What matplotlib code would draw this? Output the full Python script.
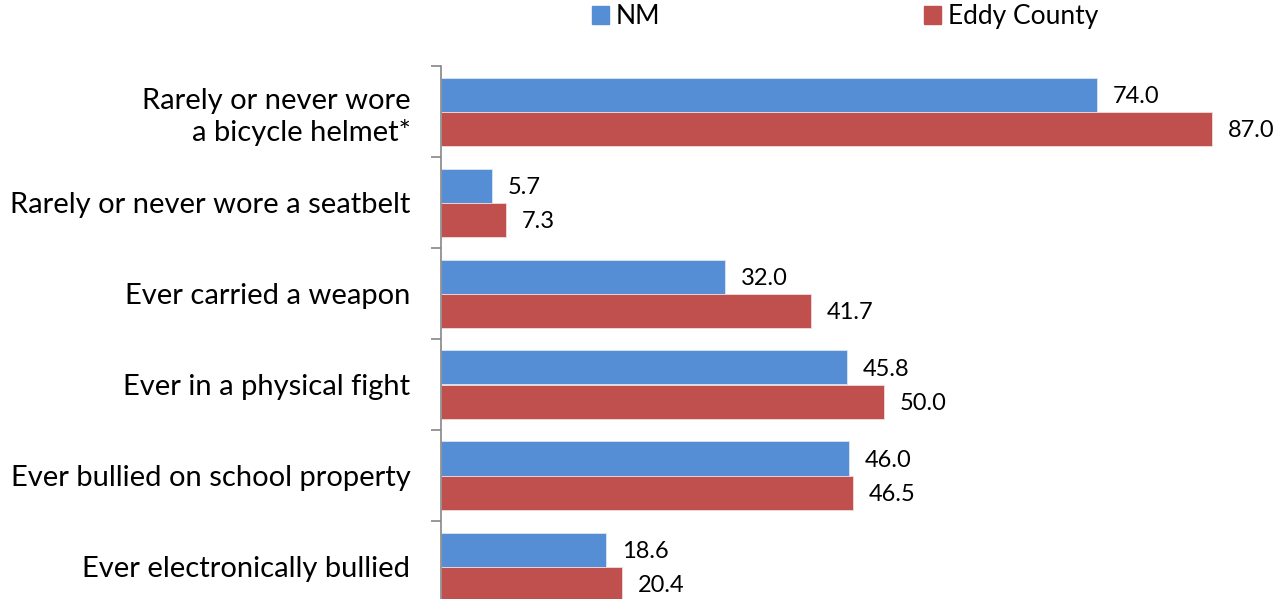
import numpy as np
from matplotlib import pyplot as plt
from matplotlib.patches import Patch

categories = ['Rarely or never wore\na bicycle helmet*',
              'Rarely or never wore a seatbelt',
              'Ever carried a weapon',
              'Ever in a physical fight',
              'Ever bullied on school property',
              'Ever electronically bullied']
nm = [74.0, 5.7, 32.0, 45.8, 46.0, 18.6]
eddy = [87.0, 7.3, 41.7, 50.0, 46.5, 20.4]

blue = '#558ED5'
red = '#C0504D'
plt.rcParams['font.family'] = ['Lato', 'DejaVu Sans']

fig = plt.figure(figsize=(12.81, 5.99), dpi=100)
ax = fig.add_axes([441 / 1281, -13 / 599, (1238.5 - 441) / 1281, 546 / 599])

y = np.arange(len(categories)) + 0.5
h = 34 / 91
ax.barh(y - h / 2, nm, height=h, color=blue, edgecolor='#DCE6F2', linewidth=0.6)
ax.barh(y + h / 2, eddy, height=h, color=red, edgecolor='#F2DCDB', linewidth=0.6)

for yi, v in zip(y, nm):
    ax.text(v + 1.8, yi - h / 2 + 0.02, f'{v:.1f}', va='center', ha='left', fontsize=17)
for yi, v in zip(y, eddy):
    ax.text(v + 1.8, yi + h / 2 + 0.02, f'{v:.1f}', va='center', ha='left', fontsize=17)

ax.set_xlim(0, 90)
ax.set_ylim(len(categories), 0)
ax.set_yticks(np.arange(len(categories) + 1))
ax.set_yticklabels([])
ax.set_yticks(y, minor=True)
ax.set_yticklabels(categories, minor=True, fontsize=21, ha='right', linespacing=1.25)
ax.tick_params(axis='y', which='minor', length=0, pad=22)
ax.tick_params(axis='y', which='major', length=7, color='#868686', width=1.2)
ax.set_xticks([])
for s in ['top', 'right', 'bottom']:
    ax.spines[s].set_visible(False)
ax.spines['left'].set_color('#868686')
ax.spines['left'].set_linewidth(1.2)

handles = [Patch(color=blue, label='NM'), Patch(color=red, label='Eddy County')]
fig.legend(handles=handles, ncol=2, loc='center', bbox_to_anchor=(0.660, 0.972),
           frameon=False, fontsize=19, handlelength=0.64, handleheight=0.64,
           handletextpad=0.27, columnspacing=10)

fig.savefig('out.png', dpi=100)
